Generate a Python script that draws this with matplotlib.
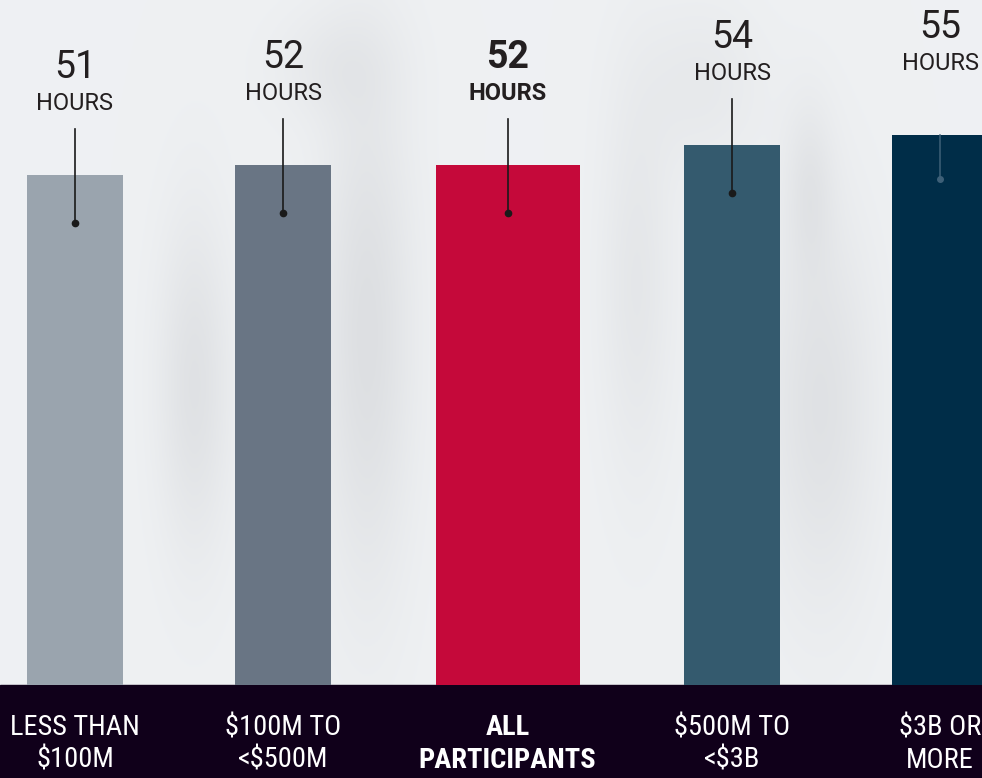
import numpy as np
import matplotlib.pyplot as plt
from matplotlib import font_manager as fm

# data
categories = ["LESS THAN\n$100M", "$100M TO\n<$500M", "ALL\nPARTICIPANTS",
              "$500M TO\n<$3B", "$3B OR\nMORE"]
hours = [51, 52, 52, 54, 55]
colors = ["#9AA4AE", "#697584", "#C5093A", "#345A6E", "#002D48"]
highlight = [False, False, True, False, False]

# layout
xpos = [0, 0.962, 2, 3.04, 4]
widths = [0.444, 0.444, 0.666, 0.444, 0.444]
text_dark = "#231F20"
band = "#10001A"

# pick a narrow face for the bottom labels, whatever is installed
narrow_family, narrow_stretch = "Roboto", "normal"
for f in fm.fontManager.ttflist:
    if f.name in ("Roboto Condensed", "Liberation Sans Narrow"):
        narrow_family, narrow_stretch = f.name, "normal"
        break
else:
    for f in fm.fontManager.ttflist:
        if f.name == "DejaVu Sans" and "condensed" in str(f.stretch):
            narrow_family, narrow_stretch = "DejaVu Sans", "condensed"
            break

fig = plt.figure(figsize=(9.82, 7.78), dpi=100)
ax = fig.add_axes([0, 0, 1, 1])
xmin, xmax = -0.3468, 4.194
ymin, ymax = -9.3, 68.5
ax.set_xlim(xmin, xmax)
ax.set_ylim(ymin, ymax)
ax.axis("off")

# soft blurred backdrop
gx, gy = np.meshgrid(np.linspace(xmin, xmax, 400), np.linspace(0, ymax, 300))
shade = np.zeros_like(gx)
for cx, cy, sx, sy, a in [(0.55, 30, 0.12, 12, 0.06), (1.35, 35, 0.15, 18, 0.07),
                           (2.6, 40, 0.12, 14, 0.04), (3.45, 28, 0.18, 14, 0.06),
                           (3.4, 50, 0.08, 6, 0.04), (1.2, 62, 0.2, 4, 0.03),
                           (2.9, 60, 0.2, 6, 0.03)]:
    shade += a * np.exp(-((gx - cx) / sx) ** 2 / 2 - ((gy - cy) / sy) ** 2 / 2)
base = np.array([0.937, 0.945, 0.953])
img = base[None, None, :] - shade[..., None] * np.array([1.0, 1.0, 0.95])
ax.imshow(img, extent=(xmin, xmax, 0, ymax), origin="lower", aspect="auto", zorder=0)

ax.axhspan(ymin, 0, color=band, zorder=1)

ax.bar(xpos, hours, width=widths, color=colors, zorder=2)

for i, (x, h) in enumerate(zip(xpos, hours)):
    w = "bold" if highlight[i] else "normal"
    ax.text(x, h + 10.7, str(h), ha="center", va="center", fontsize=27,
            family="Roboto", weight=w, color=text_dark, zorder=4)
    ax.text(x, h + 7.2, "HOURS", ha="center", va="center", fontsize=17,
            family="Roboto", weight=w, color=text_dark, zorder=4)
    if i == len(hours) - 1:
        ax.plot([x, x], [h, h - 4.4], color="#3E6078", lw=1.1, zorder=3)
        ax.plot(x, h - 4.4, "o", color="#3E6078", ms=4, zorder=3)
    else:
        ax.plot([x, x], [h + 4.6, h - 4.8], color="#1A1A1A", lw=1.2, zorder=3)
        ax.plot(x, h - 4.8, "o", color="#1A1A1A", ms=4.5, zorder=3)
    ax.text(x, -5.9, categories[i], ha="center", va="center", fontsize=20.5,
            family=narrow_family, stretch=narrow_stretch,
            weight="bold" if highlight[i] else "normal", color="white",
            linespacing=1.25, zorder=4)

fig.savefig("out.png", dpi=100)
